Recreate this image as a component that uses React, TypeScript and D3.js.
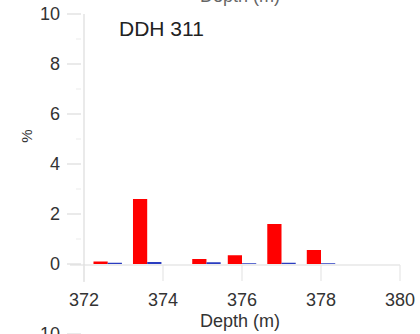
import React from "react";
import * as d3 from "d3";

const depths = [372.6, 373.6, 375.1, 376.0, 377.0, 378.0];
const redValues = [0.1, 2.6, 0.2, 0.35, 1.6, 0.56];
const blueValues = [0.05, 0.08, 0.07, 0.03, 0.05, 0.03];
const xTicks = [372, 374, 376, 378, 380];
const yTicks = [0, 2, 4, 6, 8, 10];
const yMinor = [1, 3, 5, 7, 9];
const title = "DDH 311";
const xLabel = "Depth (m)";
const yLabel = "%";

export default function App() {
  const W = 420, H = 334;
  const x = d3.scaleLinear().domain([372, 380]).range([84, 400]);
  const y = d3.scaleLinear().domain([0, 10]).range([264, 14]);
  const bw = 0.36;
  const font = "'Liberation Sans', Arial, sans-serif";
  const axisCol = "#dcdcdc";
  const textCol = "#333";
  return (
    <svg width={W} height={H} style={{ position: "absolute", left: 0, top: 0, background: "#fff" }} fontFamily={font}>
      {/* partial label from panel above */}
      <text x={240} y={2} textAnchor="middle" fontSize={18} fill="#666">{xLabel}</text>
      {/* y axis */}
      <line x1={x(372)} x2={x(372)} y1={y(10)} y2={282} stroke={axisCol} strokeWidth={1.2} />
      {yTicks.map((t) => (
        <g key={"yt" + t}>
          <line x1={67} x2={81} y1={y(t)} y2={y(t)} stroke={axisCol} strokeWidth={1.2} />
          <text x={60} y={y(t)} dy="0.36em" textAnchor="end" fontSize={18} fill={textCol}>{t}</text>
        </g>
      ))}
      {yMinor.map((t) => (
        <line key={"ym" + t} x1={76} x2={81} y1={y(t)} y2={y(t)} stroke="#eeeeee" strokeWidth={1.2} />
      ))}
      <text transform={`translate(32,${136}) rotate(-90)`} textAnchor="middle" fontSize={15} fill={textCol}>{yLabel}</text>
      {/* x axis */}
      <line x1={70} x2={x(380)} y1={y(0) + 1} y2={y(0) + 1} stroke={axisCol} strokeWidth={1.2} />
      {xTicks.map((t) => (
        <g key={"xt" + t}>
          <line x1={x(t)} x2={x(t)} y1={y(0) + 1} y2={y(0) + 17} stroke="#e6e6e6" strokeWidth={1.2} />
          <text x={x(t)} y={306} textAnchor="middle" fontSize={18} fill={textCol}>{t}</text>
        </g>
      ))}
      <text x={240} y={327} textAnchor="middle" fontSize={18} fill={textCol}>{xLabel}</text>
      {/* bars */}
      {depths.map((d, i) => (
        <g key={"b" + i}>
          <rect x={x(d - bw)} width={x(d) - x(d - bw)} y={y(redValues[i])} height={y(0) - y(redValues[i])} fill="#ff0000" />
          <rect x={x(d)} width={x(d + bw) - x(d)} y={y(blueValues[i])} height={y(0) - y(blueValues[i])} fill="#2a3cc0" />
        </g>
      ))}
      <text x={119} y={36} fontSize={21} fill="#222">{title}</text>
      {/* partial next panel tick label */}
      <text x={60} y={340} textAnchor="end" fontSize={18} fill={textCol}>10</text>
      <line x1={67} x2={81} y1={334} y2={334} stroke={axisCol} strokeWidth={1.2} />
    </svg>
  );
}
